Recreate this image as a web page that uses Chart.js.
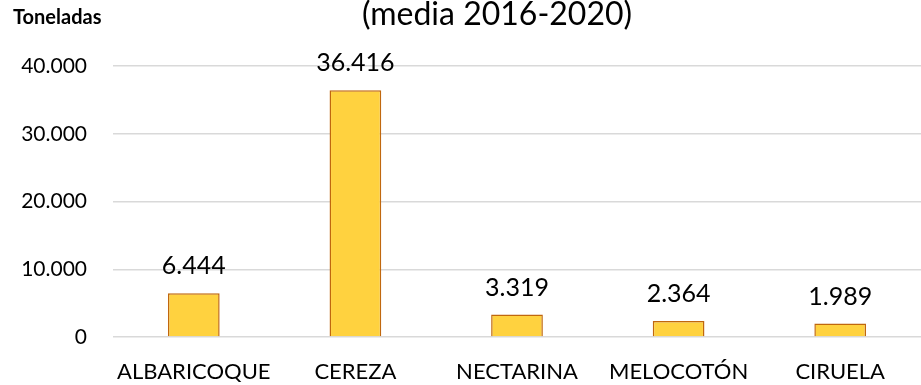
<!DOCTYPE html>
<html>
<head>
<meta charset="utf-8">
<script src="https://cdn.jsdelivr.net/npm/chart.js@4.4.1/dist/chart.umd.min.js"></script>
<style>
  html, body { margin: 0; padding: 0; background: #fff; }
  #wrap { width: 921px; height: 385px; position: relative; }
</style>
</head>
<body>
<div id="wrap"><canvas id="chart"></canvas></div>
<script>
const categories = ['ALBARICOQUE', 'CEREZA', 'NECTARINA', 'MELOCOTÓN', 'CIRUELA'];
const toneladas = [6444, 36416, 3319, 2364, 1989];
const yTicks = [0, 10000, 20000, 30000, 40000];

const FONT = 'Lato, "Noto Sans", sans-serif';

// 12345 -> "12.345"
function fmt(v) {
  return String(Math.round(v)).replace(/\B(?=(\d{3})+(?!\d))/g, '.');
}

// value labels above bars, plus the heading text and unit label
const annotate = {
  id: 'annotate',
  afterDatasetsDraw(chart) {
    const { ctx } = chart;
    const meta = chart.getDatasetMeta(0);
    ctx.save();
    ctx.fillStyle = '#000';
    ctx.textAlign = 'center';
    ctx.textBaseline = 'alphabetic';
    ctx.font = '25px ' + FONT;
    meta.data.forEach((bar, i) => {
      ctx.fillText(fmt(toneladas[i]), bar.x, bar.y - 19);
    });

    ctx.font = '32px ' + FONT;
    ctx.fillText('(media 2016-2020)', 497, 25);

    ctx.textAlign = 'left';
    ctx.font = 'bold 20px ' + FONT;
    ctx.fillText('Toneladas', 13, 24);
    ctx.restore();
  }
};

new Chart(document.getElementById('chart'), {
  type: 'bar',
  data: {
    labels: categories,
    datasets: [{
      data: toneladas,
      backgroundColor: '#FFD23F',
      borderColor: '#C0670E',
      borderWidth: 1.5,
      barPercentage: 0.32,
      categoryPercentage: 1
    }]
  },
  options: {
    responsive: true,
    maintainAspectRatio: false,
    animation: false,
    devicePixelRatio: 1,
    layout: { padding: { top: 66, left: 0, right: 0, bottom: 0 } },
    plugins: { legend: { display: false }, tooltip: { enabled: false } },
    scales: {
      x: {
        grid: { display: false },
        border: { display: false },
        ticks: { color: '#000', font: { family: FONT, size: 22 }, padding: 14, maxRotation: 0, autoSkip: false },
        afterFit(s) { s.height = 48; }
      },
      y: {
        min: 0,
        max: 40000,
        afterBuildTicks(s) { s.ticks = yTicks.map(v => ({ value: v })); },
        grid: { color: '#d9d9d9', lineWidth: 1.5, drawTicks: false },
        border: { display: false },
        ticks: { color: '#000', font: { family: FONT, size: 21 }, padding: 26, callback: v => fmt(v) },
        afterFit(s) { s.width = 113; }
      }
    }
  },
  plugins: [annotate]
});
</script>
</body>
</html>
